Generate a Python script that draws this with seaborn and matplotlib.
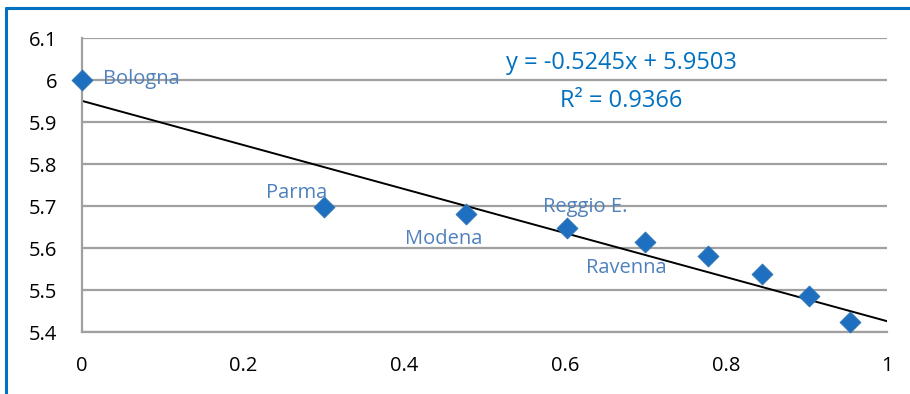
import matplotlib
matplotlib.use("Agg")
import matplotlib.pyplot as plt
import seaborn as sns
import pandas as pd
from matplotlib.lines import Line2D

# Data
log_rank = [0.0, 0.301, 0.477, 0.602, 0.699, 0.778, 0.845, 0.903, 0.954]
log_pop = [6.000, 5.698, 5.680, 5.647, 5.614, 5.582, 5.538, 5.485, 5.423]
point_labels = ["Bologna", "Parma", "Modena", "Reggio E.", "Ravenna", "", "", "", ""]
trend_slope = -0.5245
trend_intercept = 5.9503
eq_text = "y = -0.5245x + 5.9503"
r2_text = "R² = 0.9366"
x_ticks = [0, 0.2, 0.4, 0.6, 0.8, 1]
x_tick_labels = ["0", "0.2", "0.4", "0.6", "0.8", "1"]
y_ticks = [5.4, 5.5, 5.6, 5.7, 5.8, 5.9, 6.0, 6.1]
y_tick_labels = ["5.4", "5.5", "5.6", "5.7", "5.8", "5.9", "6", "6.1"]

df = pd.DataFrame({"x": log_rank, "y": log_pop, "label": point_labels})

sns.set_theme(style="white")
plt.rcParams["font.family"] = ["Open Sans", "DejaVu Sans"]

fig = plt.figure(figsize=(9.10, 3.94), dpi=100)
ax = fig.add_axes([82 / 910, 1 - 332 / 394, (887 - 82) / 910, (332 - 38) / 394])

grid_c = "#A0A0A0"
ax.set_axisbelow(True)
ax.yaxis.grid(True, color=grid_c, lw=1.6)
ax.xaxis.grid(False)

# trend line
ax.axline((0, trend_intercept), slope=trend_slope, color="black", lw=1.4, zorder=2)

sns.scatterplot(data=df, x="x", y="y", ax=ax, marker="D", s=110,
                color="#1F6FC0", edgecolor="#2E75B6", linewidth=0.8, zorder=3,
                legend=False, clip_on=False)

lab_c = "#4F81BD"
offsets = {
    "Bologna": (21, 79, "left"),
    "Parma": (-28, 193, "center"),
    "Modena": (-22, 239, "center"),
    "Reggio E.": (19, 207, "center"),
    "Ravenna": (-18, 268, "center"),
}
for xv, yv, lab in zip(log_rank, log_pop, point_labels):
    if not lab:
        continue
    dx, py, ha = offsets[lab]
    ydata = 6.1 - (py - 38) / 420
    xdata = xv + dx / 805
    ax.text(xdata, ydata, lab, color=lab_c, fontsize=14.5, ha=ha, va="center", zorder=4)

eq_c = "#0070C0"
ax.text((621 - 82) / 805, 6.1 - (63 - 38) / 420, eq_text, color=eq_c, fontsize=17,
        ha="center", va="center")
ax.text((621 - 82) / 805, 6.1 - (101 - 38) / 420, r2_text, color=eq_c, fontsize=17,
        ha="center", va="center")

ax.set_xlim(0, 1)
ax.set_ylim(5.4, 6.1)
ax.set_xticks(x_ticks)
ax.set_xticklabels(x_tick_labels)
ax.set_yticks(y_ticks)
ax.set_yticklabels(y_tick_labels)
ax.set_xlabel("")
ax.set_ylabel("")
for s in ["top", "right"]:
    ax.spines[s].set_visible(False)
for s in ["left", "bottom"]:
    ax.spines[s].set_color(grid_c)
    ax.spines[s].set_linewidth(1.6)
ax.tick_params(axis="both", direction="out", length=6, width=1.6, color=grid_c,
               labelsize=14.5, labelcolor="black")
ax.tick_params(axis="x", pad=11)
ax.tick_params(axis="y", pad=12)
ax.set_facecolor("white")

# blue border on top and left of figure
fig.add_artist(Line2D([5.5 / 910, 5.5 / 910], [0, 1 - 8 / 394], color="#0070C0", lw=2.2,
                      transform=fig.transFigure))
fig.add_artist(Line2D([5.5 / 910, 1], [1 - 8 / 394, 1 - 8 / 394], color="#0070C0", lw=2.2,
                      transform=fig.transFigure))

fig.savefig("out.png", dpi=100)
